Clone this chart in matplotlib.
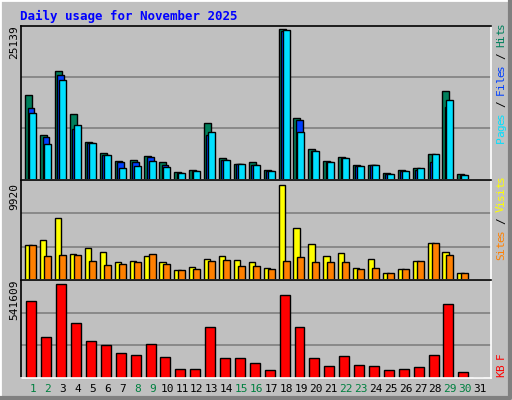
import matplotlib
matplotlib.use("Agg")
import matplotlib.pyplot as plt
import numpy as np

days = list(range(1, 32))
day_colors = ['#008040' if d in (1,2,8,9,15,16,22,23,29,30) else 'black' for d in days]
S1 = 25139/441
hits = [249,132,318,192,111,78,54,57,69,51,24,30,165,63,48,51,30,441,180,90,54,66,45,45,21,30,36,75,258,18,0]
files = [210,126,306,150,108,72,51,51,66,45,21,27,132,57,48,45,27,435,174,84,51,63,42,45,18,27,30,51,213,15,0]
pages = [195,105,291,159,108,72,36,42,54,39,21,27,141,57,48,45,27,438,141,84,51,63,42,45,18,27,36,75,234,15,0]
hits = [v*S1 for v in hits]; files = [v*S1 for v in files]; pages = [v*S1 for v in pages]
S2 = 9920/277
visits = [102,117,180,75,93,81,51,54,69,51,30,39,60,69,57,51,36,277,150,105,69,78,36,60,21,33,54,108,81,21,0]
sites = [102,69,72,72,54,45,48,51,75,48,30,33,54,57,42,42,33,54,66,51,51,51,33,36,21,33,54,108,72,21,0]
visits = [v*S2 for v in visits]; sites = [v*S2 for v in sites]
S3 = 541609/273
kbytes = [225,120,273,159,108,96,72,66,99,60,27,27,147,57,57,45,24,240,147,57,36,63,39,36,24,27,33,66,216,18,0]
kbytes = [v*S3 for v in kbytes]

W, H = 512, 400
fig = plt.figure(figsize=(W/100, H/100), dpi=100)
fig.patch.set_facecolor('#C0C0C0')
mono = 'DejaVu Sans Mono'
x = np.array(days)
xl = (-0.83+1, 31.72)

def mkax(top, bot, ymax):
    ax = fig.add_axes([20.7/W, 1-bot/H, (490.7-20.7)/W, (bot-top)/H])
    ax.set_facecolor('#C0C0C0')
    ax.set_xlim(*xl); ax.set_ylim(0, ymax)
    ax.set_xticks([]); ax.set_yticks([])
    for yy in (ymax/3, 2*ymax/3):
        ax.axhline(yy, color='#808080', lw=1.2, zorder=0)
    for s in ax.spines.values():
        s.set_color('white'); s.set_linewidth(1.2)
    ax.spines['left'].set_color('black'); ax.spines['top'].set_color('black')
    return ax

def bars(ax, left, right, vals, color):
    l = x + left
    ax.bar(l, vals, width=right-left, align='edge', color=color, edgecolor='black', lw=1, zorder=2)

ax1 = mkax(25.5, 180, 25139*150/147)
bars(ax1, -0.52, -0.05, hits, '#00805C')
bars(ax1, -0.36, 0.09, files, '#0040FF')
bars(ax1, -0.25, 0.22, pages, '#00E0FF')
ax2 = mkax(180, 280, 9920*97/92.3)
bars(ax2, -0.52, -0.1, visits, '#FFFF00')
bars(ax2, -0.25, 0.22, sites, '#FF8000')
ax3 = mkax(280, 378, 541609*95/91)
bars(ax3, -0.45, 0.22, kbytes, '#FF0000')

fig.text(20/W, 1-16/H, 'Daily usage for November 2025', color='#0000FF', family=mono,
         weight='bold', fontsize=9, va='center')
for txt, y in (('25139', 42), ('9920', 196), ('541609', 300)):
    fig.text(14/W, 1-y/H, txt, rotation=90, family=mono, fontsize=8, ha='center', va='center')
for d, c in zip(days, day_colors):
    fig.text((33+14.9*(d-1))/W, 1-389/H, str(d), color=c, family=mono, fontsize=8, ha='center', va='center')

def rlabel(parts, ycenter):
    txt_all = ''.join(p for p, _ in parts)
    n = len(txt_all); step = 6.0
    y0 = ycenter + n*step/2
    i = 0
    for p, c in parts:
        for ch in p:
            fig.text(501/W, 1-(y0 - (i+0.5)*step)/H, ch, color=c, rotation=90, family=mono,
                     fontsize=8, ha='center', va='center')
            i += 1
rlabel([('Pages', '#00E0FF'), (' / ', 'black'), ('Files', '#0040FF'), (' / ', 'black'), ('Hits', '#00805C')], 83)
rlabel([('Sites', '#FF8000'), (' / ', 'black'), ('Visits', '#FFFF00')], 218)
rlabel([('KB F', '#FF0000')], 365)

fig.add_artist(plt.Line2D([0, 0, 1], [0, 1, 1], transform=fig.transFigure, color='white', lw=2))
fig.add_artist(plt.Line2D([2/W, 1-2/W, 1-2/W], [2/H, 2/H, 1], transform=fig.transFigure, color='#808080', lw=3))
fig.savefig('out.png', dpi=100, facecolor=fig.get_facecolor())
